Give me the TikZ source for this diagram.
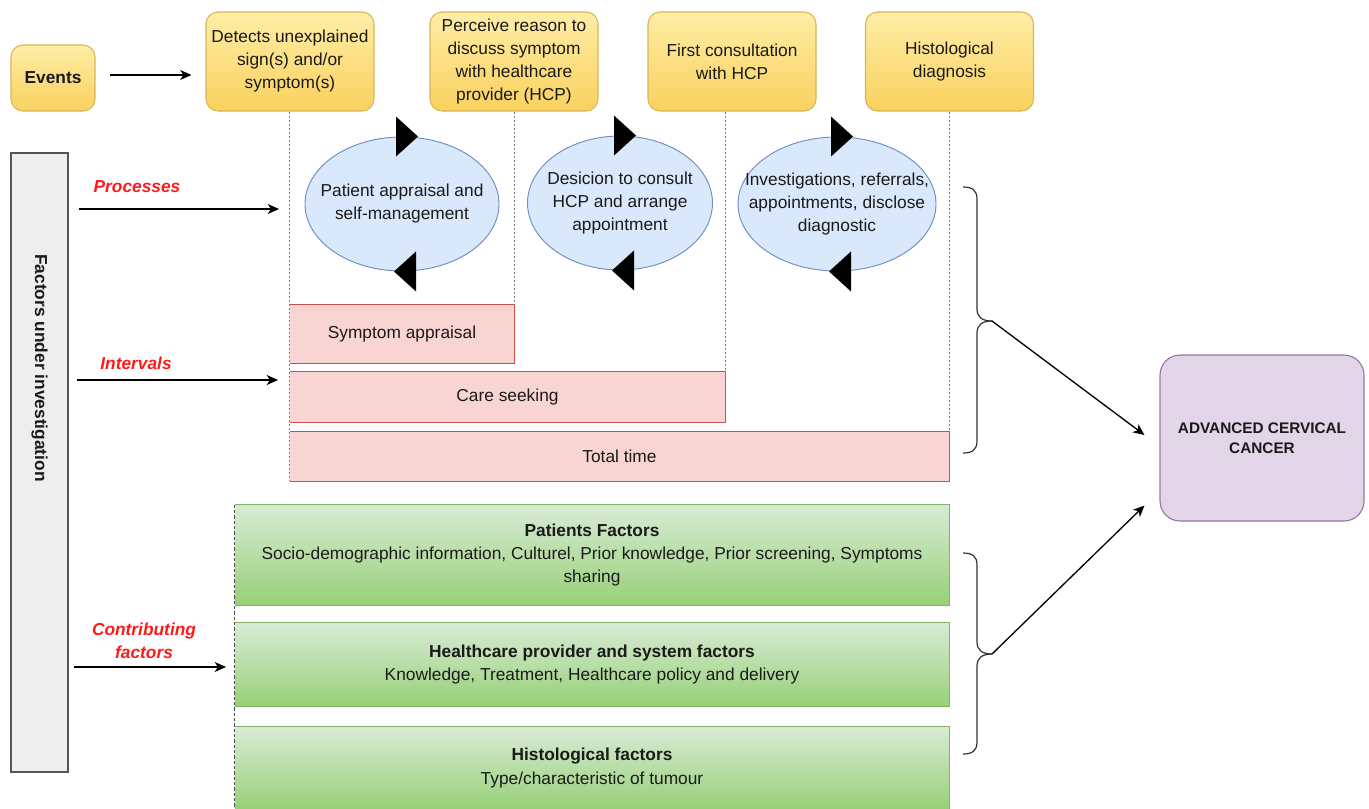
\documentclass[tikz,border=0pt]{standalone}
\usepackage{fontspec}
\setmainfont{Liberation Sans}
\usetikzlibrary{arrows.meta,shapes.geometric,calc}
\definecolor{ybord}{HTML}{D6B656}
\definecolor{ytop}{HTML}{FFEDA6}
\definecolor{ybot}{HTML}{F9D15E}
\definecolor{bfill}{HTML}{DAE8FC}
\definecolor{bbord}{HTML}{6C8EBF}
\definecolor{pfill}{HTML}{F8D5D2}
\definecolor{pbord}{HTML}{C9504A}
\definecolor{gtop}{HTML}{D8EBD5}
\definecolor{gbot}{HTML}{97D077}
\definecolor{gbord}{HTML}{82B366}
\definecolor{pufill}{HTML}{E1D5E7}
\definecolor{pubord}{HTML}{9673A6}
\definecolor{barfill}{HTML}{EEEEEE}
\definecolor{barbord}{HTML}{555555}
\definecolor{lblred}{HTML}{FF1A1A}
\definecolor{txt}{HTML}{1A1A1A}
\begin{document}
\begin{tikzpicture}[x=0.75pt,y=-0.75pt,
  base/.style={font=\fontsize{13}{17.25}\selectfont, text=txt, align=center, inner sep=0pt},
  evbox/.style={base, rectangle, rounded corners=9pt, draw=ybord, line width=0.8pt,
    top color=ytop, bottom color=ybot, minimum width=126pt, minimum height=74.25pt},
  proc/.style={ellipse, draw=bbord, fill=bfill, line width=0.7pt, inner sep=0pt, minimum height=100.5pt},
  ivbox/.style={base, fill=pfill},
  ivedge/.style={draw=pbord, line width=0.8pt},
  cfbox/.style={base, top color=gtop, bottom color=gbot, minimum width=535.5pt},
  cfedge/.style={draw=gbord, line width=0.8pt},
  lbl/.style={base, text=lblred, font=\fontsize{13}{17.25}\selectfont\bfseries\itshape},
  arr/.style={-{Stealth[length=8.5pt,width=7.5pt,inset=2.5pt]}, line width=1pt, draw=black},
  vdot/.style={draw=gray, dash pattern=on 1.5pt off 1.5pt, line width=0.6pt},
  ldash/.style={draw=black!70, dash pattern=on 2.5pt off 1.5pt, line width=0.7pt},
  bracestyle/.style={draw=black!80, line width=0.9pt},
]
\useasboundingbox (0,0) rectangle (1369,808);

% Events row
\node[evbox, minimum width=63pt, minimum height=49.5pt, font=\fontsize{13}{17.25}\selectfont\bfseries] (ev) at (53,78) {Events};
\node[evbox] (det) at (290,61.5) {Detects unexplained\\sign(s) and/or\\symptom(s)};
\node[evbox] (pr) at (514,61.5) {Perceive reason to\\discuss symptom\\with healthcare\\provider (HCP)};
\node[evbox] (fc) at (732,61.5) {First consultation\\with HCP};
\node[evbox] (hd) at (949.5,61.5) {Histological\\diagnosis};
\coordinate (ea) at ($(ev.east)+(14,-3)$);
\coordinate (eb) at ($(ev.east -| det.west)+(-14,-3)$);
\draw[arr] (ea) -- (eb);

% Left bar
\node[draw=barbord, fill=barfill, line width=0.8pt, inner sep=0pt,
  minimum width=42.75pt, minimum height=464.25pt] (fac) at (39.5,462.5) {};
\node[base, rotate=-90, font=\fontsize{13}{17.25}\selectfont\bfseries] (factxt) at (39.5,368) {Factors under investigation};

% Interval boxes
\node[ivbox, minimum width=168pt, minimum height=43.5pt] (sa) at (402,334) {Symptom appraisal};
\node[ivbox, minimum width=326.25pt, minimum height=37.5pt] (ce) at (507.5,397) {Care seeking};
\node[ivbox, minimum width=494.25pt, minimum height=36.75pt] (tt) at (619.5,456.5) {Total time};
\foreach \b in {sa,ce,tt}{
  \draw[ivedge] (\b.north west) -- (\b.north east) -- (\b.south east) -- (\b.south west);
}

% Dotted guide lines
\draw[vdot] (tt.south west |- det.south) -- (tt.south west);
\draw[vdot] (sa.north east |- pr.south) -- (sa.north east);
\draw[vdot] (ce.north east |- fc.south) -- (ce.north east);
\draw[vdot] (tt.north east |- hd.south) -- (tt.north east);

% Process ellipses
\node[proc, minimum width=145.5pt] (p1) at (402,204) {};
\node[proc, minimum width=138.75pt] (p2) at (620,203) {};
\node[proc, minimum width=148.5pt] (p3) at (837,204) {};
\node[base] (p1t) at (p1.center) {Patient appraisal and\\self-management};
\node[base] (p2t) at (p2.center) {Desicion to consult\\HCP and arrange\\appointment};
\node[base] (p3t) at (p3.center) {Investigations, referrals,\\appointments, disclose\\diagnostic};
\foreach \p in {p1,p2,p3}{
  \fill[black] ($(\p.north)+(-6,-20)$) -- ($(\p.north)+(-6,20)$) -- ($(\p.north)+(16,0)$) -- cycle;
  \fill[black] ($(\p.south)+(14,-20)$) -- ($(\p.south)+(14,20)$) -- ($(\p.south)+(-8,0)$) -- cycle;
}

% Contributing factor boxes
\node[cfbox, minimum height=75pt] (pf) at (592,555) {\textbf{Patients Factors}\\Socio-demographic information, Culturel, Prior knowledge, Prior screening, Symptoms\\sharing};
\node[cfbox, minimum height=62.25pt] (hf) at (592,664.5) {\textbf{Healthcare provider and system factors}\\Knowledge, Treatment, Healthcare policy and delivery};
\node[cfbox, minimum height=61.5pt] (hi) at (592,768) {\textbf{Histological factors}\\Type/characteristic of tumour};
\foreach \b in {pf,hf,hi}{
  \draw[cfedge] (\b.north west) -- (\b.north east) -- (\b.south east) -- (\b.south west);
}
\draw[ldash] (pf.north west) -- (hi.south west);

% Labels and arrows from the left
\node[lbl] (lp) at (137,187) {Processes};
\coordinate (pa) at (79,209); \coordinate (pb) at (279,209);
\draw[arr] (pa) -- (pb);
\node[lbl] (li) at (136,363) {Intervals};
\coordinate (ia) at (77,380); \coordinate (ib) at (278,380);
\draw[arr] (ia) -- (ib);
\node[lbl] (lc) at (144,641) {Contributing\\factors};
\coordinate (ca) at (74,667); \coordinate (cb) at (226,667);
\draw[arr] (ca) -- (cb);

% Braces
\coordinate (b1) at (992,321);
\coordinate (b2) at (992,654);
\draw[bracestyle] (963,187) .. controls (972,187) and (977,190) .. (977,199) -- (977,309)
  .. controls (977,317) and (982,321) .. (b1);
\draw[bracestyle] (963,453) .. controls (972,453) and (977,450) .. (977,441) -- (977,333)
  .. controls (977,325) and (982,321) .. (b1);
\draw[bracestyle] (963,553) .. controls (972,553) and (977,556) .. (977,565) -- (977,642)
  .. controls (977,650) and (982,654) .. (b2);
\draw[bracestyle] (963,754) .. controls (972,754) and (977,751) .. (977,742) -- (977,666)
  .. controls (977,658) and (982,654) .. (b2);

% Outcome
\node[base, draw=pubord, fill=pufill, rounded corners=15pt, line width=0.8pt,
  minimum width=153pt, minimum height=124.5pt,
  font=\fontsize{11.5}{15}\selectfont\bfseries] (adv) at (1262,438) {ADVANCED CERVICAL\\CANCER};
\draw[arr] (b1) -- ($(adv.west)+(-15,-3)$);
\draw[arr] (b2) -- ($(adv.south west)+(-15,-16)$);
\end{tikzpicture}
\end{document}
